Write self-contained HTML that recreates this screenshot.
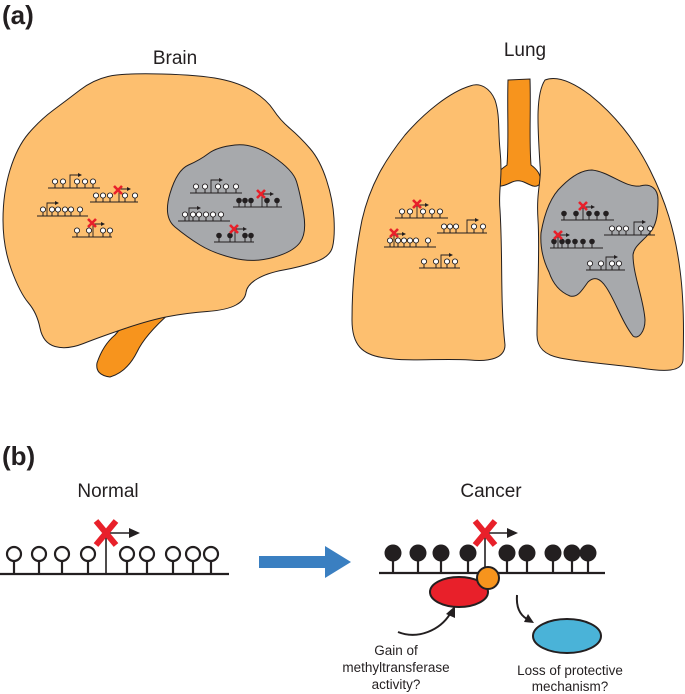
<!DOCTYPE html>
<html><head><meta charset="utf-8"><style>
html,body{margin:0;padding:0;background:#fff;}
svg{display:block;font-family:"Liberation Sans",Arial,sans-serif;}
</style></head><body>
<svg width="685" height="694" viewBox="0 0 685 694" xmlns="http://www.w3.org/2000/svg">
<defs>
<g id="o"><line x1="0" y1="0" x2="0" y2="-4" stroke="#231f20" stroke-width="1"/><circle cx="0" cy="-6.5" r="2.6" fill="#fff" stroke="#231f20" stroke-width="0.9"/></g>
<g id="f"><line x1="0" y1="0" x2="0" y2="-4" stroke="#231f20" stroke-width="1"/><circle cx="0" cy="-6.5" r="2.8" fill="#231f20"/></g>
<g id="p"><polyline points="0,0 0,-13 8,-13" fill="none" stroke="#231f20" stroke-width="0.9"/><path d="M8,-15 L12,-13 L8,-11Z" fill="#231f20"/></g>
<g id="x"><path d="M-4,-4 L4,4 M4,-4 L-4,4" stroke="#e8202a" stroke-width="2.6"/></g>
</defs>

<text x="2" y="24" font-size="26" font-weight="bold" fill="#231f20">(a)</text>
<text x="175" y="64" font-size="19" text-anchor="middle" fill="#231f20">Brain</text>
<text x="525" y="56" font-size="19" text-anchor="middle" fill="#231f20">Lung</text>

<!-- brainstem -->
<path d="M140,303 L173,303 L170,313 Q145,335 137,352 Q127,372 110,377 Q95,375 97,363 Q103,345 115,335 Q128,320 140,303Z" fill="#f7941d" stroke="#231f20" stroke-width="1"/>
<!-- brain -->
<path d="M108,76.5 Q123,73 161.5,74 Q200,75 220,79 Q240,83 253.5,91.5 Q267,100 273.5,110 Q280,120 290,128.5 Q300,137 310,148.5 Q320,160 326.5,180 Q333,200 334,218.5 Q335,237 332.5,247 Q330,257 315,262 Q300,267 283.5,270 Q267,273 257,279 Q247,285 246,292.5 Q245,300 236,305 Q227,310 207,311.5 Q187,313 168.5,316.5 Q150,320 125,328.5 Q100,337 83.5,343.5 Q67,350 55,346.5 Q43,343 40,328 Q37,313 28.5,303 Q20,293 11.5,270 Q3,247 3,220 Q3,193 10,170 Q17,147 28.5,133.5 Q40,120 53.5,110 Q67,100 80,90 Q93,80 108,76.5Z" fill="#fdbf6f" stroke="#231f20" stroke-width="1"/>
<!-- brain tumor -->
<path d="M175,227 Q163,217 170,193.5 Q177,170 188.5,165 Q200,160 208.5,153.5 Q217,147 235,145 Q253,143 273,156.5 Q293,170 296.5,181.5 Q300,193 303.5,213 Q307,233 300,242.5 Q293,252 273,257.5 Q253,263 233,258 Q213,253 200,245 Q187,237 175,227Z" fill="#a7a9ac" stroke="#231f20" stroke-width="1"/>

<!-- trachea -->
<path d="M508,80 L530,79 C531,110 529,140 531,165 C538,170 542,176 540,184 C536,188 532,186 526,183 C520,180 516,180 510,183 C504,186 496,188 494,184 C492,176 500,170 507,165 C509,140 507,110 508,80 Z" fill="#f7941d" stroke="#231f20" stroke-width="1"/>
<!-- left lung -->
<path d="M470,86 C480,82 490,88 495,100 C500,115 498,130 500,150 C503,180 498,190 500,210 C503,260 500,300 505,345 C505,358 490,362 470,360 C440,358 410,362 385,358 C362,355 352,345 352,320 C352,280 356,250 362,220 C370,185 385,160 405,135 C425,112 450,92 470,86 Z" fill="#fdbf6f" stroke="#231f20" stroke-width="1"/>
<!-- right lung -->
<path d="M545,80 C555,76 570,80 590,95 C615,115 635,140 650,170 C665,200 675,230 680,270 C684,300 684,330 683,360 C682,372 665,372 640,368 C610,364 580,362 560,358 C545,355 537,348 537,335 C537,300 540,250 538,220 C536,190 542,180 540,165 C538,130 535,95 545,80 Z" fill="#fdbf6f" stroke="#231f20" stroke-width="1"/>
<!-- lung tumor -->
<path d="M541,233 C545,210 552,195 562,186 C572,176 582,170 592,170 C610,172 625,188 640,186 C650,183 658,188 658,200 C658,212 657,222 652,230 C645,240 634,245 633,255 C633,275 644,300 645,320 C645,332 638,340 633,336 C622,322 615,300 606,287 C600,278 594,276 588,282 C582,290 578,298 570,296 C560,292 553,284 549,272 C544,262 540,248 541,233 Z" fill="#a7a9ac" stroke="#231f20" stroke-width="1"/>

<g stroke="#231f20" stroke-width="1">
<line x1="48" y1="188" x2="100" y2="188"/>
<line x1="90" y1="202" x2="138" y2="202"/>
<line x1="37" y1="216" x2="88" y2="216"/>
<line x1="72" y1="237" x2="112" y2="237"/>
<line x1="190" y1="193" x2="242" y2="193"/>
<line x1="233" y1="207" x2="282" y2="207"/>
<line x1="178" y1="221" x2="230" y2="221"/>
<line x1="214" y1="242" x2="254" y2="242"/>
<line x1="395" y1="218" x2="448" y2="218"/>
<line x1="437" y1="233" x2="487" y2="233"/>
<line x1="384" y1="247" x2="436" y2="247"/>
<line x1="419" y1="268" x2="460" y2="268"/>
<line x1="561" y1="220" x2="614" y2="220"/>
<line x1="604" y1="235" x2="655" y2="235"/>
<line x1="550" y1="248" x2="603" y2="248"/>
<line x1="586" y1="270" x2="625" y2="270"/>
</g>

<use href="#o" x="55" y="188"/><use href="#o" x="63" y="188"/><use href="#p" x="70" y="188"/><use href="#o" x="77" y="188"/><use href="#o" x="85" y="188"/><use href="#o" x="93" y="188"/>
<use href="#o" x="96" y="202"/><use href="#o" x="103" y="202"/><use href="#o" x="110" y="202"/><use href="#p" x="119" y="202"/><use href="#o" x="125" y="202"/><use href="#o" x="135" y="202"/><use href="#x" x="118" y="190"/>
<use href="#o" x="43" y="216"/><use href="#p" x="47" y="216"/><use href="#o" x="52" y="216"/><use href="#o" x="58" y="216"/><use href="#o" x="65" y="216"/><use href="#o" x="71" y="216"/><use href="#o" x="80" y="216"/>
<use href="#o" x="77" y="237"/><use href="#o" x="89" y="237"/><use href="#p" x="93" y="237"/><use href="#o" x="103" y="237"/><use href="#o" x="110" y="237"/><use href="#x" x="92" y="223"/>
<use href="#o" x="196" y="193"/><use href="#o" x="205" y="193"/><use href="#p" x="211" y="193"/><use href="#o" x="218" y="193"/><use href="#o" x="226" y="193"/><use href="#o" x="236" y="193"/>
<use href="#f" x="239" y="207"/><use href="#f" x="245" y="207"/><use href="#f" x="251" y="207"/><use href="#p" x="262" y="207"/><use href="#f" x="267" y="207"/><use href="#f" x="277" y="207"/><use href="#x" x="261" y="194"/>
<use href="#o" x="185" y="221"/><use href="#p" x="189" y="221"/><use href="#o" x="193" y="221"/><use href="#o" x="199" y="221"/><use href="#o" x="206" y="221"/><use href="#o" x="213" y="221"/><use href="#o" x="221" y="221"/>
<use href="#f" x="219" y="242"/><use href="#f" x="230" y="242"/><use href="#p" x="235" y="242"/><use href="#f" x="245" y="242"/><use href="#f" x="251" y="242"/><use href="#x" x="234" y="229"/>
<use href="#o" x="402" y="218"/><use href="#o" x="410" y="218"/><use href="#p" x="417" y="218"/><use href="#o" x="423" y="218"/><use href="#o" x="432" y="218"/><use href="#o" x="440" y="218"/><use href="#x" x="417" y="204"/>
<use href="#o" x="444" y="233"/><use href="#o" x="450" y="233"/><use href="#o" x="456" y="233"/><use href="#p" x="467" y="233"/><use href="#o" x="474" y="233"/><use href="#o" x="483" y="233"/>
<use href="#o" x="390" y="247"/><use href="#p" x="394" y="247"/><use href="#o" x="398" y="247"/><use href="#o" x="404" y="247"/><use href="#o" x="410" y="247"/><use href="#o" x="416" y="247"/><use href="#o" x="428" y="247"/><use href="#x" x="394" y="233"/>
<use href="#o" x="424" y="268"/><use href="#o" x="436" y="268"/><use href="#p" x="441" y="268"/><use href="#o" x="447" y="268"/><use href="#o" x="455" y="268"/>
<use href="#f" x="564" y="220"/><use href="#f" x="576" y="220"/><use href="#p" x="583" y="220"/><use href="#f" x="589" y="220"/><use href="#f" x="597" y="220"/><use href="#f" x="606" y="220"/><use href="#x" x="583" y="206"/>
<use href="#o" x="612" y="235"/><use href="#o" x="619" y="235"/><use href="#o" x="626" y="235"/><use href="#p" x="634" y="235"/><use href="#o" x="641" y="235"/><use href="#o" x="650" y="235"/>
<use href="#f" x="554" y="248"/><use href="#p" x="558" y="248"/><use href="#f" x="562" y="248"/><use href="#f" x="568" y="248"/><use href="#f" x="575" y="248"/><use href="#f" x="583" y="248"/><use href="#f" x="592" y="248"/><use href="#x" x="558" y="235"/>
<use href="#o" x="590" y="270"/><use href="#o" x="601" y="270"/><use href="#p" x="606" y="270"/><use href="#o" x="612" y="270"/><use href="#o" x="619" y="270"/>

<!-- part b -->
<text x="2" y="465" font-size="26" font-weight="bold" fill="#231f20">(b)</text>
<text x="108" y="497" font-size="19" text-anchor="middle" fill="#231f20">Normal</text>
<text x="491" y="497" font-size="19" text-anchor="middle" fill="#231f20">Cancer</text>

<g stroke="#231f20" stroke-width="2.2" fill="#fff">
<line x1="0" y1="574" x2="229" y2="574"/>
<line x1="14" y1="574" x2="14" y2="561"/><circle cx="14" cy="554" r="7"/>
<line x1="39" y1="574" x2="39" y2="561"/><circle cx="39" cy="554" r="7"/>
<line x1="62" y1="574" x2="62" y2="561"/><circle cx="62" cy="554" r="7"/>
<line x1="88" y1="574" x2="88" y2="561"/><circle cx="88" cy="554" r="7"/>
<line x1="127" y1="574" x2="127" y2="561"/><circle cx="127" cy="554" r="7"/>
<line x1="147" y1="574" x2="147" y2="561"/><circle cx="147" cy="554" r="7"/>
<line x1="173" y1="574" x2="173" y2="561"/><circle cx="173" cy="554" r="7"/>
<line x1="193" y1="574" x2="193" y2="561"/><circle cx="193" cy="554" r="7"/>
<line x1="211" y1="574" x2="211" y2="561"/><circle cx="211" cy="554" r="7"/>
<line x1="106" y1="574" x2="106" y2="533" stroke-width="1.6"/>
<line x1="106" y1="533" x2="130" y2="533" stroke-width="1.6"/>

<line x1="379" y1="573" x2="605" y2="573"/>
<line x1="393" y1="573" x2="393" y2="560"/>
<line x1="418" y1="573" x2="418" y2="560"/>
<line x1="441" y1="573" x2="441" y2="560"/>
<line x1="468" y1="573" x2="468" y2="560"/>
<line x1="507" y1="573" x2="507" y2="560"/>
<line x1="527" y1="573" x2="527" y2="560"/>
<line x1="553" y1="573" x2="553" y2="560"/>
<line x1="572" y1="573" x2="572" y2="560"/>
<line x1="588" y1="573" x2="588" y2="560"/>
<line x1="485" y1="573" x2="485" y2="533" stroke-width="1.6"/>
<line x1="485" y1="533" x2="508" y2="533" stroke-width="1.6"/>
</g>
<path d="M129,528 L140,533 L129,538Z" fill="#231f20"/>
<path d="M507,528 L518,533 L507,538Z" fill="#231f20"/>
<g fill="#231f20">
<circle cx="393" cy="553" r="8.5"/><circle cx="418" cy="553" r="8.5"/><circle cx="441" cy="553" r="8.5"/><circle cx="468" cy="553" r="8.5"/><circle cx="507" cy="553" r="8.5"/><circle cx="527" cy="553" r="8.5"/><circle cx="553" cy="553" r="8.5"/><circle cx="572" cy="553" r="8.5"/><circle cx="588" cy="553" r="8.5"/>
</g>
<path d="M96,521 L116,545 M116,521 L96,545" stroke="#e8202a" stroke-width="6"/>
<path d="M475,521 L495,545 M495,521 L475,545" stroke="#e8202a" stroke-width="6"/>

<path d="M259,556 L325,556 L325,546 L351,562 L325,578 L325,568 L259,568Z" fill="#3a7fc1"/>

<ellipse cx="459" cy="592" rx="29" ry="15" fill="#e8202a" stroke="#231f20" stroke-width="2"/>
<circle cx="488" cy="578" r="11" fill="#f7941d" stroke="#231f20" stroke-width="2"/>
<ellipse cx="567" cy="636" rx="34" ry="17" fill="#4ab3d8" stroke="#231f20" stroke-width="2"/>

<path d="M398,632 C418,640 440,630 450,614" fill="none" stroke="#231f20" stroke-width="2"/>
<path d="M446,614 L455,606 L455,618Z" fill="#231f20"/>
<path d="M517,595 C516,608 520,615 527,619" fill="none" stroke="#231f20" stroke-width="2"/>
<path d="M524,622 L534,623 L528,614Z" fill="#231f20"/>

<g font-size="13.5" fill="#231f20" text-anchor="middle">
<text x="396" y="655">Gain of</text>
<text x="396" y="672">methyltransferase</text>
<text x="396" y="689">activity?</text>
<text x="570" y="675">Loss of protective</text>
<text x="570" y="691">mechanism?</text>
</g>
</svg>
</body></html>
